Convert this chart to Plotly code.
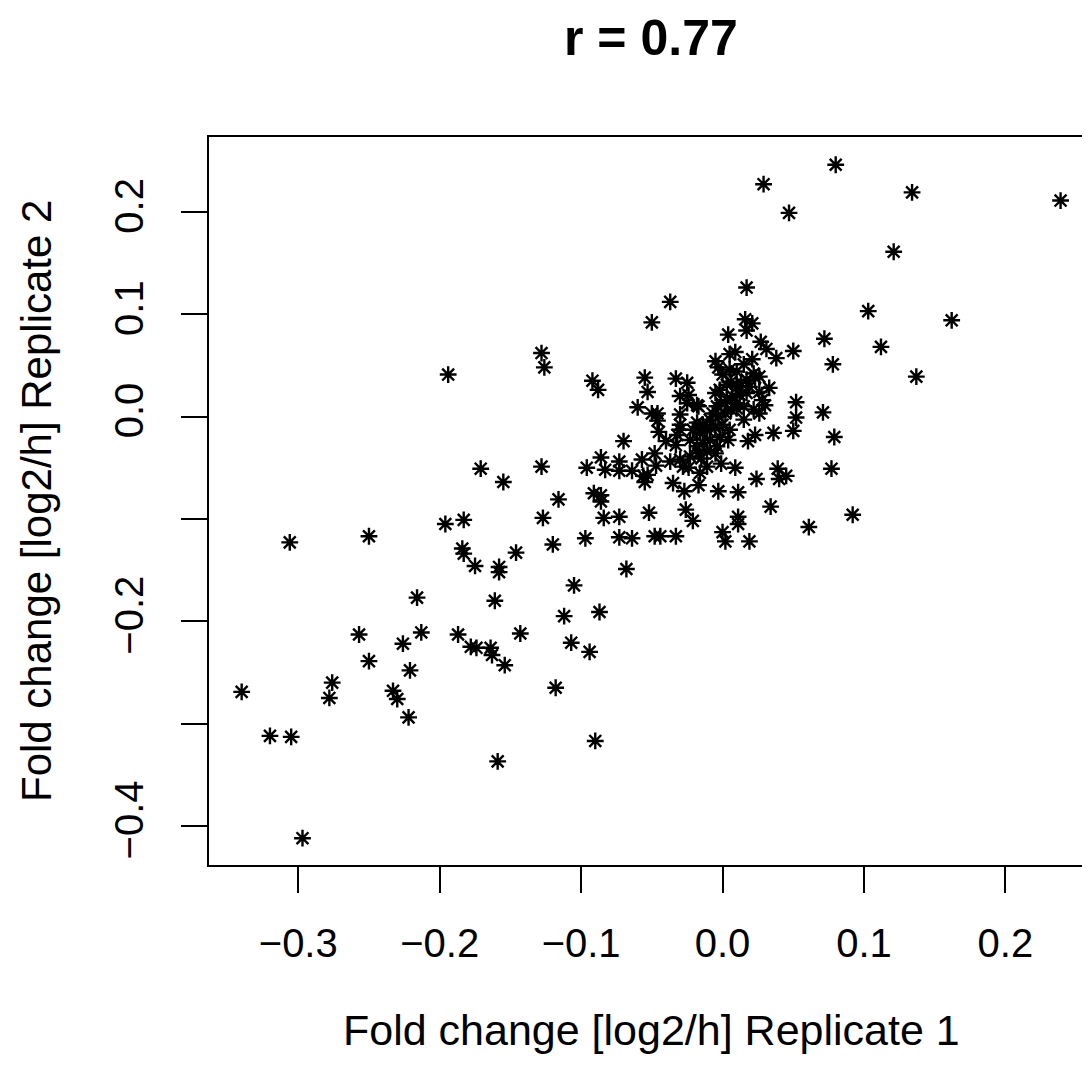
import plotly.graph_objects as go

# Fold change [log2/h] values
rep1 = [
 -0.340, -0.320, -0.305, -0.306, -0.297, -0.276, -0.278, -0.257, -0.250, -0.250,
 -0.233, -0.230, -0.226, -0.222, -0.221, -0.216, -0.213, -0.196, -0.183, -0.184,
 -0.183, -0.175, -0.187, -0.178, -0.174, -0.164, -0.163, -0.161, -0.158, -0.158,
 -0.159, -0.155, -0.154, -0.146, -0.143, -0.127, -0.120, -0.118, -0.116, -0.112,
 -0.107, -0.105, -0.097, -0.094, -0.091, -0.086, -0.086, -0.087, -0.090, -0.084,
 -0.194, -0.171, -0.128, -0.128, -0.126, -0.092, -0.088, -0.096, -0.086, -0.083,
 -0.073, -0.073, -0.073, -0.073, -0.064, -0.068, -0.070, -0.060, -0.055, -0.053,
 -0.050, -0.037, -0.050, -0.046, -0.046, -0.045, -0.040, -0.033, -0.032, -0.033,
 -0.025, -0.030, -0.024, -0.030, -0.030, -0.030, -0.017, -0.064, -0.057, -0.048,
 -0.047, -0.056, -0.055, -0.053, -0.035, -0.027, -0.017, -0.037, -0.030, -0.028,
 -0.024, -0.052, -0.026, -0.021, -0.048, -0.044, -0.033, -0.023, -0.016, -0.016,
 -0.011, -0.003, -0.001, 0.009, 0.011, 0.011, 0.011, 0.000, 0.002, 0.019,
 0.024, 0.039, 0.040, 0.045, 0.034, 0.061, 0.092, 0.077, 0.079, 0.071,
 0.052, 0.052, 0.050, 0.036, 0.026, 0.018, 0.023, 0.015, 0.033, 0.026,
 0.028, 0.137, 0.078, 0.072, 0.112, 0.103, 0.162, 0.121, 0.047, 0.029,
 0.080, 0.134, 0.239, 0.017, 0.016, 0.021, 0.017, 0.004, 0.027, 0.031,
 0.038, 0.050, 0.005, 0.009, 0.021, -0.005, -0.003, 0.005, 0.015, 0.022,
 0.000, 0.010, 0.023, -0.005, -0.002, 0.003, 0.006, 0.010, 0.013, 0.017,
 0.019, 0.017, 0.012, 0.007, 0.003, -0.001, -0.004, 0.010, 0.015, 0.006,
 0.002, -0.003, -0.007, -0.009, -0.014, -0.018, -0.021, -0.016, -0.011, -0.005,
 0.000, 0.005, -0.002, -0.009, -0.014, -0.018, -0.004, 0.004, -0.017, -0.011,
 -0.005, -0.023, 0.022, -0.025, -0.018, -0.015, 0.010, 0.026, 0.030,
]
rep2 = [
 -0.269, -0.312, -0.313, -0.123, -0.412, -0.260, -0.275, -0.213, -0.117, -0.239,
 -0.268, -0.276, -0.222, -0.294, -0.248, -0.177, -0.211, -0.105, -0.101, -0.129,
 -0.134, -0.146, -0.213, -0.225, -0.226, -0.226, -0.233, -0.180, -0.147, -0.152,
 -0.337, -0.064, -0.243, -0.133, -0.212, -0.099, -0.125, -0.265, -0.081, -0.195,
 -0.221, -0.165, -0.119, -0.230, -0.075, -0.077, -0.083, -0.191, -0.317, -0.099,
 0.041, -0.051, -0.049, 0.062, 0.048, 0.035, 0.026, -0.050, -0.040, -0.052,
 -0.044, -0.053, -0.098, -0.118, -0.119, -0.149, -0.024, 0.009, 0.038, 0.024,
 0.092, 0.112, 0.003, 0.003, -0.004, -0.015, -0.024, -0.028, -0.018, 0.037,
 0.033, 0.020, 0.021, 0.002, -0.008, -0.013, 0.010, -0.053, -0.042, -0.036,
 -0.048, -0.058, -0.064, -0.057, -0.065, -0.073, -0.067, -0.044, -0.042, -0.049,
 -0.050, -0.094, -0.091, -0.102, -0.117, -0.117, -0.117, -0.023, -0.010, -0.055,
 -0.049, -0.073, -0.046, -0.050, -0.074, -0.098, -0.105, -0.113, -0.122, -0.122,
 -0.061, -0.051, -0.061, -0.058, -0.088, -0.108, -0.096, -0.051, -0.020, 0.004,
 0.014, -0.001, -0.014, -0.016, 0.003, -0.024, -0.018, -0.003, 0.028, 0.024,
 0.016, 0.039, 0.051, 0.076, 0.068, 0.103, 0.094, 0.161, 0.199, 0.227,
 0.246, 0.219, 0.211, 0.126, 0.095, 0.091, 0.084, 0.080, 0.073, 0.066,
 0.057, 0.064, 0.061, 0.063, 0.056, 0.054, 0.048, 0.046, 0.051, 0.042,
 0.041, 0.044, 0.038, 0.023, 0.026, 0.031, 0.034, 0.029, 0.033, 0.036,
 0.029, 0.023, 0.021, 0.020, 0.016, 0.013, 0.010, 0.013, 0.010, 0.007,
 0.003, 0.000, 0.003, -0.003, -0.008, -0.006, -0.013, -0.016, -0.013, -0.011,
 -0.008, -0.013, -0.020, -0.023, -0.026, -0.029, -0.029, -0.023, -0.036, -0.034,
 -0.036, -0.039, 0.007, 0.013, 0.011, -0.041, 0.008, 0.039, 0.011,
]

x_ticks = [-0.3, -0.2, -0.1, 0.0, 0.1, 0.2]
y_tick_vals = [-0.4, -0.3, -0.2, -0.1, 0.0, 0.1, 0.2]
y_tick_text = ["\u22120.4", "", "\u22120.2", "", "0.0", "0.1", "0.2"]

FONT = "Liberation Sans, Arial, Helvetica, sans-serif"

# page body has an 8px default margin; figure is sized to fit inside the window
OFF = 8
W, H = 1090 - OFF, 1072 - OFF
L, T, B, R = 209 - OFF, 137 - OFF, 207, 0
PW, PH = W - L - R, H - T - B


def px_x(px):
    return (px - OFF - L) / PW


def px_y(py):
    return (H - B - (py - OFF)) / PH


fig = go.Figure()
fig.add_trace(go.Scatter(
    x=rep1, y=rep2, mode="markers",
    marker=dict(symbol="asterisk-open", size=14, color="black",
                line=dict(color="black", width=2.4)),
    showlegend=False, hoverinfo="x+y",
))

fig.update_layout(
    width=W, height=H,
    margin=dict(l=L, r=R, t=T, b=B, pad=0),
    paper_bgcolor="white", plot_bgcolor="white",
    font=dict(family=FONT, size=40, color="black"),
    xaxis=dict(
        range=[-0.3631, 0.2598], tickvals=x_ticks, tickformat=".1f",
        ticks="outside", ticklen=26, tickwidth=1.5, tickcolor="black",
        showline=True, linecolor="black", linewidth=2, mirror=True,
        showgrid=False, zeroline=False, ticklabelstandoff=16,
        tickfont=dict(size=40),
    ),
    yaxis=dict(
        range=[-0.4382, 0.2731], tickvals=y_tick_vals, ticktext=y_tick_text,
        ticks="outside", ticklen=26, tickwidth=1.5, tickcolor="black",
        showline=True, linecolor="black", linewidth=2, mirror=False,
        showgrid=False, zeroline=False, tickangle=-90, ticklabelstandoff=22,
        tickfont=dict(size=40),
    ),
    annotations=[
        dict(text="<b>r = 0.77</b>", x=px_x(651), y=px_y(38),
             xref="paper", yref="paper", xanchor="center", yanchor="middle",
             showarrow=False, font=dict(size=50, family=FONT)),
        dict(text="Fold change [log2/h] Replicate 1", x=px_x(651),
             y=px_y(1030), xref="paper", yref="paper", xanchor="center",
             yanchor="middle", showarrow=False, font=dict(size=43, family=FONT)),
        dict(text="Fold change [log2/h] Replicate 2", x=px_x(36), y=px_y(501),
             xref="paper", yref="paper", xanchor="center", yanchor="middle",
             textangle=-90, showarrow=False, font=dict(size=42, family=FONT)),
    ],
)

fig.write_html("out.html")
